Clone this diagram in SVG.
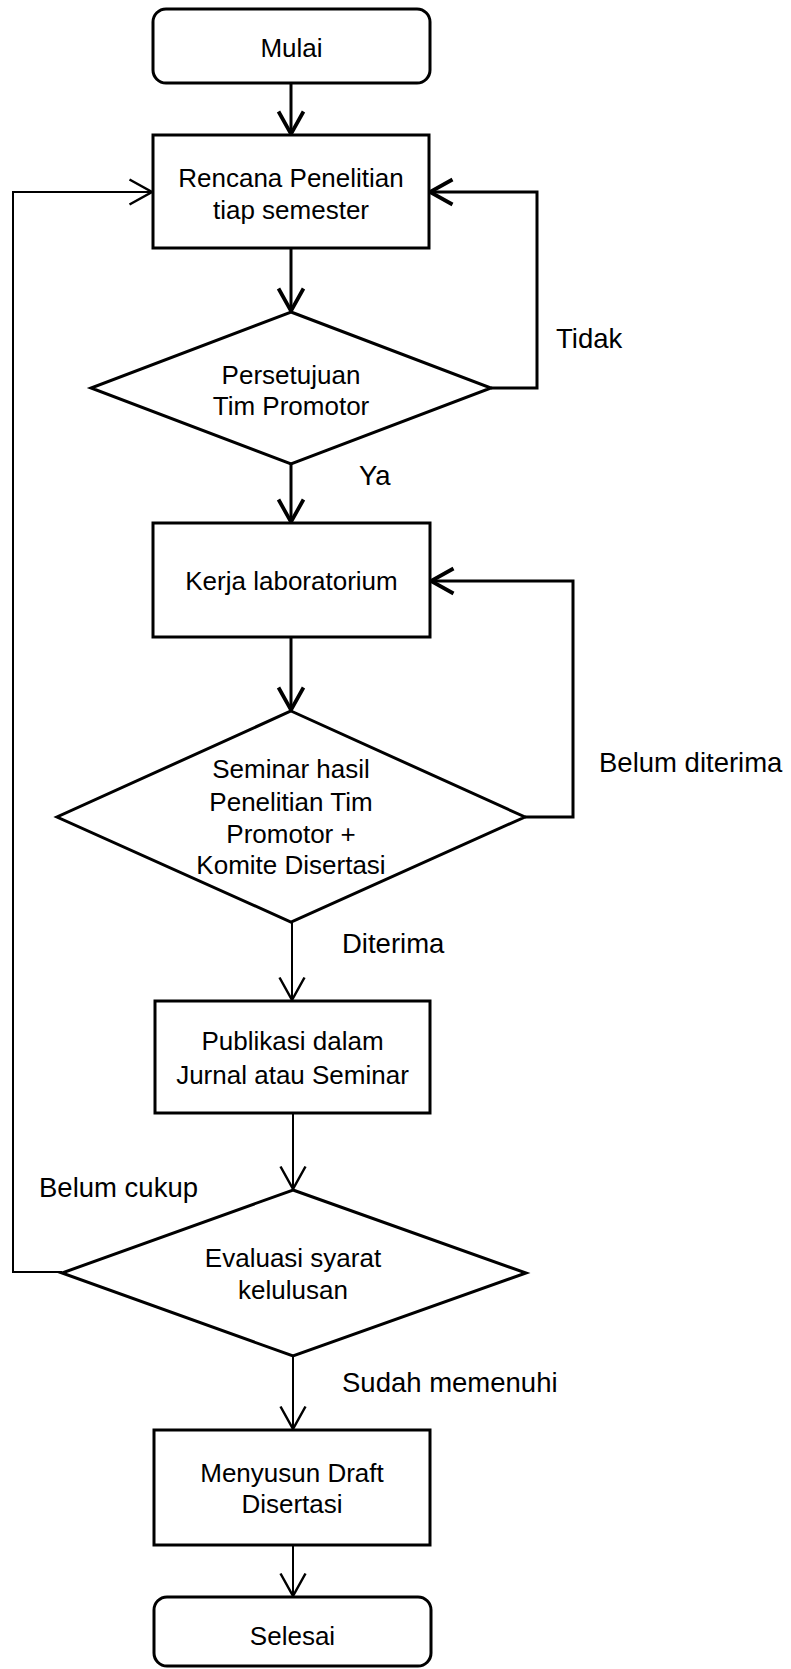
<svg xmlns="http://www.w3.org/2000/svg" width="791" height="1669" viewBox="0 0 791 1669">
<style>
.shape{fill:#fff;stroke:#000;stroke-width:3;stroke-linejoin:miter}
.t{font-family:"Liberation Sans",Arial,sans-serif;font-size:26px;fill:#000;text-anchor:middle}
.lb{font-family:"Liberation Sans",Arial,sans-serif;font-size:27.5px;fill:#000}
.thick{fill:none;stroke:#000;stroke-width:3}
.thin{fill:none;stroke:#000;stroke-width:2}
</style>
<defs>
<marker id="ah3" markerUnits="userSpaceOnUse" markerWidth="30" markerHeight="30" viewBox="-20 -12 22 24" refX="0" refY="0" orient="auto" overflow="visible">
<path d="M-18,-10 L0,0 L-18,10" fill="none" stroke="#000" stroke-width="3"/>
</marker>
<marker id="ah2" markerUnits="userSpaceOnUse" markerWidth="30" markerHeight="30" viewBox="-20 -12 22 24" refX="0" refY="0" orient="auto" overflow="visible">
<path d="M-18,-10 L0,0 L-18,10" fill="none" stroke="#000" stroke-width="2"/>
</marker>
</defs>
<rect width="791" height="1669" fill="#fff"/>
<g id="connectors">
<line class="thick" x1="291" y1="83" x2="291" y2="134" marker-end="url(#ah3)"/>
<line class="thick" x1="291" y1="248" x2="291" y2="311" marker-end="url(#ah3)"/>
<polyline class="thick" points="491,388 537,388 537,192 430,192" marker-end="url(#ah3)"/>
<line class="thick" x1="291" y1="464" x2="291" y2="522" marker-end="url(#ah3)"/>
<line class="thick" x1="291" y1="637" x2="291" y2="710" marker-end="url(#ah3)"/>
<polyline class="thick" points="525,817 573,817 573,581 431,581" marker-end="url(#ah3)"/>
<line class="thin" x1="292" y1="922" x2="292" y2="1000" marker-end="url(#ah2)"/>
<line class="thin" x1="293" y1="1113" x2="293" y2="1189" marker-end="url(#ah2)"/>
<polyline class="thin" points="62,1272 13,1272 13,192 152,192" marker-end="url(#ah2)"/>
<line class="thin" x1="293" y1="1356" x2="293" y2="1429" marker-end="url(#ah2)"/>
<line class="thin" x1="293" y1="1545" x2="293" y2="1596" marker-end="url(#ah2)"/>
<text class="lb" x="556" y="348">Tidak</text>
<text class="lb" x="359" y="485">Ya</text>
<text class="lb" x="599" y="772">Belum diterima</text>
<text class="lb" x="342" y="953">Diterima</text>
<text class="lb" x="39" y="1197">Belum cukup</text>
<text class="lb" x="342" y="1392">Sudah memenuhi</text>
</g>
<g id="mulai">
<rect class="shape" x="153" y="9" width="277" height="74" rx="13"/>
<text class="t" x="291.5" y="57">Mulai</text>
</g>
<g id="rencana">
<rect class="shape" x="153" y="135" width="276" height="113"/>
<text class="t" x="291" y="187">Rencana Penelitian</text>
<text class="t" x="291" y="219">tiap semester</text>
</g>
<g id="persetujuan">
<polygon class="shape" points="291,312 491,388 291,464 91,388"/>
<text class="t" x="291" y="384">Persetujuan</text>
<text class="t" x="291" y="415">Tim Promotor</text>
</g>
<g id="kerja">
<rect class="shape" x="153" y="523" width="277" height="114"/>
<text class="t" x="291.5" y="590">Kerja laboratorium</text>
</g>
<g id="seminar">
<polygon class="shape" points="291,711 525,817 291,922 57,817"/>
<text class="t" x="291" y="778">Seminar hasil</text>
<text class="t" x="291" y="811">Penelitian Tim</text>
<text class="t" x="291" y="843">Promotor +</text>
<text class="t" x="291" y="874">Komite Disertasi</text>
</g>
<g id="publikasi">
<rect class="shape" x="155" y="1001" width="275" height="112"/>
<text class="t" x="292.5" y="1050">Publikasi dalam</text>
<text class="t" x="292.5" y="1084">Jurnal atau Seminar</text>
</g>
<g id="evaluasi">
<polygon class="shape" points="293,1190 526,1273 293,1356 62,1273"/>
<text class="t" x="293" y="1267">Evaluasi syarat</text>
<text class="t" x="293" y="1299">kelulusan</text>
</g>
<g id="menyusun">
<rect class="shape" x="154" y="1430" width="276" height="115"/>
<text class="t" x="292" y="1482">Menyusun Draft</text>
<text class="t" x="292" y="1513">Disertasi</text>
</g>
<g id="selesai">
<rect class="shape" x="154" y="1597" width="277" height="69" rx="13"/>
<text class="t" x="292.5" y="1645">Selesai</text>
</g>
</svg>
